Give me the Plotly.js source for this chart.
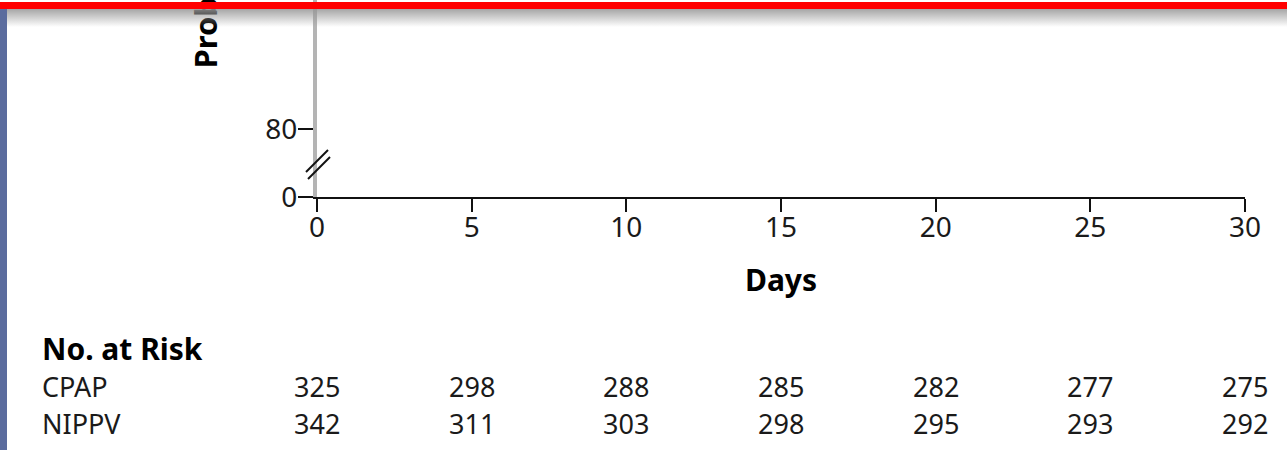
<!DOCTYPE html>
<html>
<head>
<meta charset="utf-8">
<script src="https://cdn.plot.ly/plotly-3.0.1.min.js"></script>
<style>
  html, body { margin: 0; padding: 0; background: #ffffff; }
  #wrap { position: relative; width: 1287px; height: 450px; overflow: hidden; }
  #chart { position: absolute; left: 0; top: 0; width: 1287px; height: 450px; }
  .topbar { position: absolute; left: 0; top: 2px; width: 1287px; height: 7px; background: #ff0000; z-index: 3; }
  .shade { position: absolute; left: 0; top: 9px; width: 1287px; height: 18px; z-index: 2; pointer-events: none;
           background: linear-gradient(to bottom, rgba(150,150,150,0.85), rgba(255,255,255,0)); }
  .sidebar { position: absolute; left: 0; top: 9px; width: 7px; height: 441px; background: #5b6c9e; z-index: 3; }
</style>
</head>
<body>
<div id="wrap">
  <div id="chart"></div>
  <div class="shade"></div>
  <div class="topbar"></div>
  <div class="sidebar"></div>
</div>
<script>
// Days on the x axis and the risk-table columns
const dayTicks = [0, 5, 10, 15, 20, 25, 30];
const dayTickText = ['0', '5', '10', '15', '20', '25', '30'];

// Broken y axis: "0" sits below the break, "80" above it
const yTickPos = [0, 80];
const yTickText = ['0', '80'];

// Number of infants at risk
const riskGroups = ['CPAP', 'NIPPV'];
const cpapAtRisk = [325, 298, 288, 285, 282, 277, 275];
const nippvAtRisk = [342, 311, 303, 298, 295, 293, 292];

const FONT = '"Noto Sans", "Open Sans", sans-serif';
const INK = '#1a1a1a';

const plotBottom = 197; // pixel row of the x axis

const annotations = [];

// Rotated y-axis title, only its start shows within the frame
annotations.push({
  text: '<b>Probability of Survival (%)</b>',
  xref: 'paper', yref: 'paper', x: 0, y: 0,
  xshift: -113, yshift: plotBottom - 71,
  xanchor: 'center', yanchor: 'bottom',
  textangle: -90, showarrow: false,
  font: { family: FONT, size: 31, color: '#000000' }
});

// Risk table header and row labels
annotations.push({
  text: '<b>No. at Risk</b>', xref: 'paper', yref: 'paper', x: 0, y: 0,
  xshift: -277, yshift: -(348 - plotBottom), xanchor: 'left', yanchor: 'middle',
  showarrow: false, font: { family: FONT, size: 30, color: '#000000' }
});
const rowShift = [-(386 - plotBottom), -(423 - plotBottom)];
const rowValues = [cpapAtRisk, nippvAtRisk];
riskGroups.forEach((g, r) => {
  annotations.push({
    text: g, xref: 'paper', yref: 'paper', x: 0, y: 0,
    xshift: -277, yshift: rowShift[r], xanchor: 'left', yanchor: 'middle',
    showarrow: false, font: { family: FONT, size: 27, color: INK }
  });
  rowValues[r].forEach((v, i) => {
    annotations.push({
      text: String(v), xref: 'x', yref: 'paper', x: dayTicks[i], y: 0,
      yshift: rowShift[r], xanchor: 'center', yanchor: 'middle',
      showarrow: false, font: { family: FONT, size: 27, color: INK }
    });
  });
});

// Axis-break marks (two short slashes across the y axis), kept outside the clip box
const breakAnchor = (plotBottom - 163) / plotBottom;
const breakMark = (dx0, dy0, dx1, dy1) => ({
  type: 'line', xref: 'paper', yref: 'paper',
  xsizemode: 'pixel', ysizemode: 'pixel', xanchor: 0, yanchor: breakAnchor,
  x0: dx0, y0: dy0, x1: dx1, y1: dy1,
  line: { color: '#111111', width: 2 }
});

const layout = {
  width: 1287, height: 450,
  margin: { l: 317, r: 42, t: 0, b: 253, pad: 0 },
  paper_bgcolor: '#ffffff', plot_bgcolor: '#ffffff',
  showlegend: false,
  font: { family: FONT, color: INK },
  xaxis: {
    range: [0, 30], tickmode: 'array', tickvals: dayTicks, ticktext: dayTickText,
    showgrid: false, zeroline: false, fixedrange: true,
    showline: true, linecolor: '#111111', linewidth: 2,
    ticks: 'outside', ticklen: 13, tickwidth: 2, tickcolor: '#111111',
    ticklabelstandoff: -9,
    tickfont: { family: FONT, size: 28, color: INK },
    title: { text: '<b>Days</b>', standoff: 26, font: { family: FONT, size: 30, color: '#000000' } }
  },
  yaxis: {
    range: [0, 232], tickmode: 'array', tickvals: yTickPos, ticktext: yTickText,
    showgrid: false, zeroline: false, fixedrange: true,
    showline: true, linecolor: '#b4b4b4', linewidth: 4,
    ticks: 'outside', ticklen: 15, tickwidth: 2, tickcolor: '#111111',
    ticklabelstandoff: -5,
    tickfont: { family: FONT, size: 28, color: INK }
  },
  shapes: [
    breakMark(-11, -9, 11, 13),
    breakMark(-9, -16, 13, 6)
  ],
  annotations: annotations
};

// Empty trace so the axes are drawn
const traces = [{ x: [], y: [], type: 'scatter', mode: 'lines', hoverinfo: 'skip' }];

Plotly.newPlot('chart', traces, layout, { displayModeBar: false, staticPlot: true });
</script>
</body>
</html>
